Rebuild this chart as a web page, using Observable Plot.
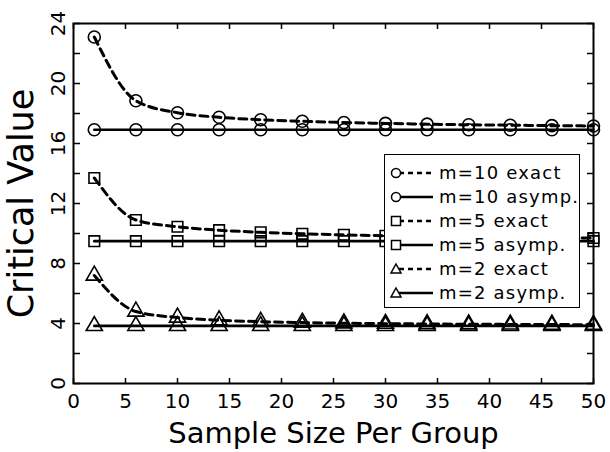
<!DOCTYPE html>
<html>
<head>
<meta charset="utf-8">
<script src="https://cdn.jsdelivr.net/npm/d3@7"></script>
<script src="https://cdn.jsdelivr.net/npm/@observablehq/plot@0.6"></script>
<style>
  html, body { margin: 0; padding: 0; background: #fff; }
  #wrap { position: relative; width: 610px; height: 452px; font-family: "DejaVu Sans", sans-serif; }
  #legend { position: absolute; left: 384px; top: 154px; width: 196px; height: 154px; border: 1.5px solid #000; background: #fff; box-sizing: border-box; }
  .row { position: absolute; left: 0; width: 190px; height: 24px; }
  .row svg { position: absolute; left: 4px; top: 4px; }
  .row span { position: absolute; left: 54px; top: 0; line-height: 24px; font-size: 18px; letter-spacing: 1.2px; color: #000; white-space: pre; }
</style>
</head>
<body>
<div id="wrap"></div>
<script>
// ---- data ----
const sampleSizes = [2, 6, 10, 14, 18, 22, 26, 30, 34, 38, 42, 46, 50];
const m10Exact = [23.1, 18.85, 18.05, 17.75, 17.58, 17.48, 17.40, 17.34, 17.29, 17.25, 17.22, 17.19, 17.17];
const m10Asymp = [16.92, 16.92, 16.92, 16.92, 16.92, 16.92, 16.92, 16.92, 16.92, 16.92, 16.92, 16.92, 16.92];
const m5Exact  = [13.7, 10.9, 10.45, 10.22, 10.08, 9.98, 9.91, 9.85, 9.81, 9.77, 9.74, 9.72, 9.70];
const m5Asymp  = [9.49, 9.49, 9.49, 9.49, 9.49, 9.49, 9.49, 9.49, 9.49, 9.49, 9.49, 9.49, 9.49];
const m2Exact  = [7.2, 4.8, 4.4, 4.22, 4.12, 4.06, 4.02, 3.99, 3.97, 3.95, 3.94, 3.93, 3.92];
const m2Asymp  = [3.84, 3.84, 3.84, 3.84, 3.84, 3.84, 3.84, 3.84, 3.84, 3.84, 3.84, 3.84, 3.84];
const seriesNames = ["m=10 exact", "m=10 asymp.", "m=5 exact", "m=5 asymp.", "m=2 exact", "m=2 asymp."];
const seriesSymbols = ["circle", "circle", "square", "square", "triangle", "triangle"];
const seriesKinds = ["exact", "asymp", "exact", "asymp", "exact", "asymp"];
const xTicks = [0, 5, 10, 15, 20, 25, 30, 35, 40, 45, 50];
const yTickLabels = [0, 4, 8, 12, 16, 20, 24];
const yMinorTicks = [0, 2, 4, 6, 8, 10, 12, 14, 16, 18, 20, 22, 24];
const xTitle = "Sample Size Per Group";
const yTitle = "Critical Value";

const allValues = [m10Exact, m10Asymp, m5Exact, m5Asymp, m2Exact, m2Asymp];
const rows = [];
allValues.forEach((vals, i) => {
  vals.forEach((v, j) => rows.push({n: sampleSizes[j], v, series: seriesNames[i], sym: seriesSymbols[i], kind: seriesKinds[i]}));
});
const exactRows = rows.filter(d => d.kind === "exact");
const asympRows = rows.filter(d => d.kind === "asymp");

const font = "DejaVu Sans, sans-serif";
const W = 610, H = 452, ML = 73, MR = 17, MT = 23, MB = 69;
const PW = W - ML - MR, PH = H - MT - MB;

const chart = Plot.plot({
  width: W,
  height: H,
  marginLeft: ML,
  marginRight: MR,
  marginTop: MT,
  marginBottom: MB,
  style: {fontFamily: font, color: "#000", background: "#fff"},
  x: {domain: [0, 50]},
  y: {domain: [0, 24]},
  symbol: {domain: ["circle", "square", "triangle"], range: ["circle", "square", "triangle"]},
  marks: [
    // tick labels
    Plot.axisX({ticks: xTicks, tickSize: 0, tickPadding: 10, fontSize: 20, label: null, tickFormat: d => String(d), style: "letter-spacing: 1px"}),
    Plot.axisY({ticks: yTickLabels, tickSize: 0, tickPadding: 9, fontSize: 20, tickRotate: -90, label: null, tickFormat: d => String(d)}),
    // inward tick marks (drawn by flipped axes shifted across the frame)
    Plot.axisX({anchor: "top", ticks: xTicks, tickSize: 6, dy: PH, text: null, label: null, strokeWidth: 1.5}),
    Plot.axisX({anchor: "bottom", ticks: xTicks, tickSize: 6, dy: -PH, text: null, label: null, strokeWidth: 1.5}),
    Plot.axisY({anchor: "right", ticks: yMinorTicks, tickSize: 6, dx: -PW, text: null, label: null, strokeWidth: 1.5}),
    Plot.axisY({anchor: "left", ticks: yMinorTicks, tickSize: 6, dx: PW, text: null, label: null, strokeWidth: 1.5}),
    // series
    Plot.line(asympRows, {x: "n", y: "v", z: "series", stroke: "#000", strokeWidth: 2.6}),
    Plot.line(exactRows, {x: "n", y: "v", z: "series", stroke: "#000", strokeWidth: 3, strokeDasharray: "8,5", curve: "monotone-x"}),
    Plot.dot(rows, {x: "n", y: "v", symbol: "sym", r: 6, stroke: "#000", fill: "none", strokeWidth: 1.6}),
    Plot.frame({stroke: "#000", strokeWidth: 2}),
    // titles
    Plot.text([xTitle], {text: d => d, frameAnchor: "bottom", dy: 50, lineAnchor: "middle", textAnchor: "middle", fontSize: 29, fontFamily: font, fill: "#000", style: "letter-spacing: 2.5px"}),
    Plot.text([yTitle], {text: d => d, frameAnchor: "left", dx: -52, rotate: -90, lineAnchor: "middle", textAnchor: "middle", fontSize: 35, fontFamily: font, fill: "#000", style: "letter-spacing: 2px"})
  ]
});

const wrap = document.getElementById("wrap");
wrap.appendChild(chart);

// legend
const legend = document.createElement("div");
legend.id = "legend";
const symPath = {
  circle: '<circle cx="7" cy="8" r="4.5" fill="#fff" stroke="#000" stroke-width="1.5"/>',
  square: '<rect x="2.5" y="3.5" width="9" height="9" fill="#fff" stroke="#000" stroke-width="1.5"/>',
  triangle: '<path d="M7,3 L12,12 L2,12 Z" fill="#fff" stroke="#000" stroke-width="1.5"/>'
};
seriesNames.forEach((name, i) => {
  const row = document.createElement("div");
  row.className = "row";
  row.style.top = (6 + i * 24) + "px";
  const dash = seriesKinds[i] === "exact" ? 'stroke-dasharray="5,4" stroke-width="2.4"' : 'stroke-width="2.6"';
  row.innerHTML = `<svg width="44" height="16" viewBox="0 0 44 16">` +
    `<line x1="10" y1="8" x2="44" y2="8" stroke="#000" ${dash}/>` +
    symPath[seriesSymbols[i]] + `</svg><span>${name}</span>`;
  legend.appendChild(row);
});
wrap.appendChild(legend);
</script>
</body>
</html>
